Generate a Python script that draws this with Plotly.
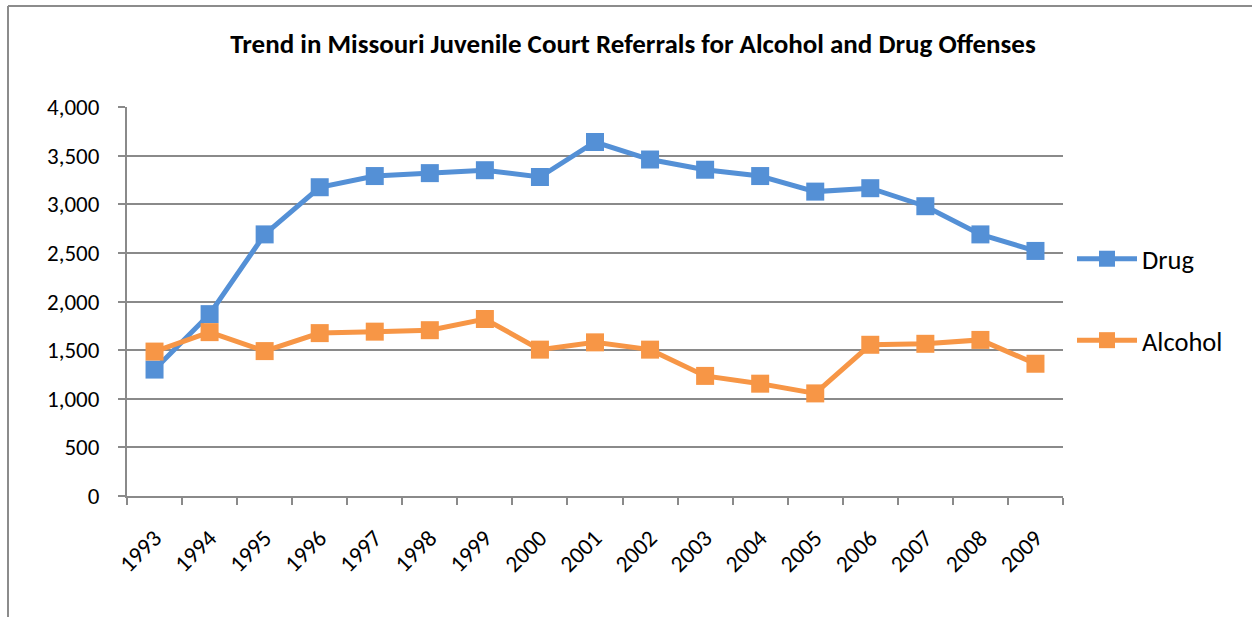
import plotly.graph_objects as go

# Missouri juvenile court referrals, 1993-2009
years = ["1993", "1994", "1995", "1996", "1997", "1998", "1999", "2000", "2001",
         "2002", "2003", "2004", "2005", "2006", "2007", "2008", "2009"]
drug = [1300, 1870, 2690, 3175, 3290, 3320, 3350, 3280, 3640,
        3460, 3355, 3290, 3130, 3165, 2980, 2690, 2520]
alcohol = [1485, 1685, 1490, 1675, 1690, 1705, 1820, 1505, 1580,
           1505, 1235, 1155, 1055, 1555, 1565, 1605, 1360]
y_ticks = [0, 500, 1000, 1500, 2000, 2500, 3000, 3500, 4000]

FONT = "Carlito, Calibri, Lato, sans-serif"
BLUE = "#5490D6"
ORANGE = "#F79646"
GRID = "#8a8a8a"

W, H = 1252, 617
ML, MR, MT, MB = 127, 189, 107, 121
PW, PH = W - ML - MR, H - MT - MB


def px_x(p):
    return (p - ML) / PW


def px_y(p):
    return (H - MB - p) / PH


fig = go.Figure()
for name, vals, col, grp in [("Drug", drug, BLUE, "a"), ("Alcohol", alcohol, ORANGE, "b")]:
    fig.add_trace(go.Scatter(
        x=years, y=vals, name=name, mode="lines+markers",
        legendgroup=grp,
        line=dict(color=col, width=5),
        marker=dict(symbol="square", size=18, color=col),
    ))

fig.update_layout(
    width=W, height=H,
    margin=dict(l=ML, r=MR, t=MT, b=MB),
    paper_bgcolor="white", plot_bgcolor="white",
    font=dict(family=FONT, color="#000000", size=23),
    title=dict(
        text="<b>Trend in Missouri Juvenile Court Referrals for Alcohol and Drug Offenses</b>",
        x=633 / W, xref="container", xanchor="center",
        y=1 - 44 / H, yref="container", yanchor="middle",
        font=dict(family=FONT, size=27, color="#000000"),
    ),
    showlegend=True,
    legend=dict(
        x=px_x(1072), xanchor="left",
        y=px_y(299.5), yanchor="middle",
        font=dict(family=FONT, size=26.5, color="#000000"),
        tracegroupgap=44,
        itemwidth=60,
        bgcolor="rgba(0,0,0,0)",
    ),
    xaxis=dict(
        type="category", range=[-0.5, len(years) - 0.5],
        tickson="boundaries", ticks="outside", ticklen=7, tickcolor=GRID, tickwidth=1.5,
        showline=True, linecolor=GRID, linewidth=2,
        showgrid=False, tickangle=-45,
        ticklabelstandoff=17,
        tickfont=dict(family=FONT, size=23.5, color="#000000"),
    ),
    yaxis=dict(
        range=[0, 4000], tickvals=y_ticks, tickformat=",",
        ticks="outside", ticklen=7, tickcolor=GRID, tickwidth=1.5,
        showline=True, linecolor=GRID, linewidth=2,
        showgrid=True, gridcolor=GRID, gridwidth=1.5,
        zeroline=False, ticklabelstandoff=14,
        tickfont=dict(family=FONT, size=23, color="#000000"),
    ),
)

# chart frame: top and left edges
fig.add_shape(type="line", xref="paper", yref="paper",
              x0=px_x(8), x1=px_x(W + 5), y0=px_y(6), y1=px_y(6),
              line=dict(color="#8c8c8c", width=2), layer="above")
fig.add_shape(type="line", xref="paper", yref="paper",
              x0=px_x(8), x1=px_x(8), y0=px_y(6), y1=px_y(H + 5),
              line=dict(color="#8c8c8c", width=2), layer="above")

fig.write_html("out.html")
